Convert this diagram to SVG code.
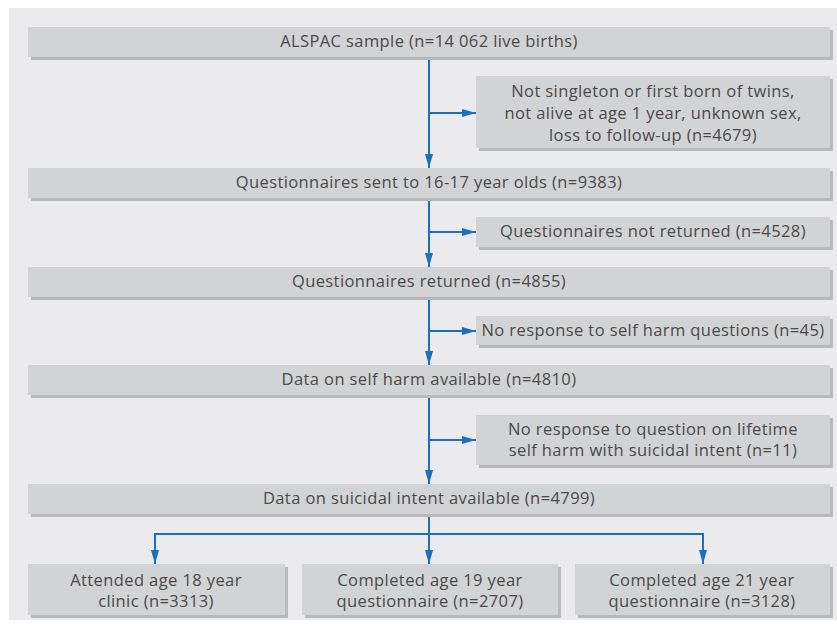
<svg xmlns="http://www.w3.org/2000/svg" width="837" height="626" viewBox="0 0 837 626">
<style>
.box{fill:#d2d3d5}
.sh{fill:#b8b9bb}
.t{font-family:"Open Sans","Noto Sans",sans-serif;font-size:16.5px;letter-spacing:0.4px;fill:#4a4a4a;text-anchor:middle}
.c{stroke:#1c6fbd;stroke-width:2;fill:none}
</style>
<defs>
<marker id="ah" viewBox="0 0 14 8" refX="14" refY="4" markerWidth="14" markerHeight="8" markerUnits="userSpaceOnUse" orient="auto">
<path d="M0,0 L14,4 L0,8 Z" fill="#1c6fbd"/>
</marker>
</defs>
<rect x="0" y="0" width="837" height="626" fill="#ffffff"/>
<rect x="9" y="8" width="828" height="612" fill="#ebebed"/>

<g id="connectors">
<path class="c" d="M429,57 V168" marker-end="url(#ah)"/>
<path class="c" d="M429,113 H476" marker-end="url(#ah)"/>
<path class="c" d="M429,198 V267" marker-end="url(#ah)"/>
<path class="c" d="M429,232 H476" marker-end="url(#ah)"/>
<path class="c" d="M429,297 V365" marker-end="url(#ah)"/>
<path class="c" d="M429,331 H476" marker-end="url(#ah)"/>
<path class="c" d="M429,395 V484" marker-end="url(#ah)"/>
<path class="c" d="M429,440 H476" marker-end="url(#ah)"/>
<path class="c" d="M429,514 V564" marker-end="url(#ah)"/>
<path class="c" d="M155,564 V534 H703 V564" />
<path class="c" d="M155,540 V564" marker-end="url(#ah)"/>
<path class="c" d="M703,540 V564" marker-end="url(#ah)"/>
</g>

<g id="n1">
<rect class="sh" x="31" y="30" width="802" height="30"/>
<rect class="box" x="28" y="27" width="802" height="30"/>
<text class="t" x="429" y="47">ALSPAC sample (n=14 062 live births)</text>
</g>
<g id="x1">
<rect class="sh" x="479" y="79" width="354" height="72"/>
<rect class="box" x="476" y="76" width="354" height="72"/>
<text class="t" x="653" y="97">Not singleton or first born of twins,</text>
<text class="t" x="653" y="119">not alive at age 1 year, unknown sex,</text>
<text class="t" x="653" y="141">loss to follow-up (n=4679)</text>
</g>
<g id="n2">
<rect class="sh" x="31" y="171" width="802" height="30"/>
<rect class="box" x="28" y="168" width="802" height="30"/>
<text class="t" x="429" y="188">Questionnaires sent to 16-17 year olds (n=9383)</text>
</g>
<g id="x2">
<rect class="sh" x="479" y="220" width="354" height="30"/>
<rect class="box" x="476" y="217" width="354" height="30"/>
<text class="t" x="653" y="237">Questionnaires not returned (n=4528)</text>
</g>
<g id="n3">
<rect class="sh" x="31" y="270" width="802" height="30"/>
<rect class="box" x="28" y="267" width="802" height="30"/>
<text class="t" x="429" y="287">Questionnaires returned (n=4855)</text>
</g>
<g id="x3">
<rect class="sh" x="479" y="319" width="354" height="29"/>
<rect class="box" x="476" y="316" width="354" height="29"/>
<text class="t" x="653" y="336">No response to self harm questions (n=45)</text>
</g>
<g id="n4">
<rect class="sh" x="31" y="368" width="802" height="30"/>
<rect class="box" x="28" y="365" width="802" height="30"/>
<text class="t" x="429" y="385">Data on self harm available (n=4810)</text>
</g>
<g id="x4">
<rect class="sh" x="479" y="418" width="354" height="50"/>
<rect class="box" x="476" y="415" width="354" height="50"/>
<text class="t" x="653" y="435">No response to question on lifetime</text>
<text class="t" x="653" y="456">self harm with suicidal intent (n=11)</text>
</g>
<g id="n5">
<rect class="sh" x="31" y="487" width="802" height="30"/>
<rect class="box" x="28" y="484" width="802" height="30"/>
<text class="t" x="429" y="504">Data on suicidal intent available (n=4799)</text>
</g>
<g id="b1">
<rect class="sh" x="31" y="567" width="257" height="51"/>
<rect class="box" x="28" y="564" width="257" height="51"/>
<text class="t" x="156" y="586">Attended age 18 year</text>
<text class="t" x="156" y="607">clinic (n=3313)</text>
</g>
<g id="b2">
<rect class="sh" x="305" y="567" width="256" height="51"/>
<rect class="box" x="302" y="564" width="256" height="51"/>
<text class="t" x="430" y="586">Completed age 19 year</text>
<text class="t" x="430" y="607">questionnaire (n=2707)</text>
</g>
<g id="b3">
<rect class="sh" x="578" y="567" width="255" height="51"/>
<rect class="box" x="575" y="564" width="255" height="51"/>
<text class="t" x="702" y="586">Completed age 21 year</text>
<text class="t" x="702" y="607">questionnaire (n=3128)</text>
</g>
</svg>
